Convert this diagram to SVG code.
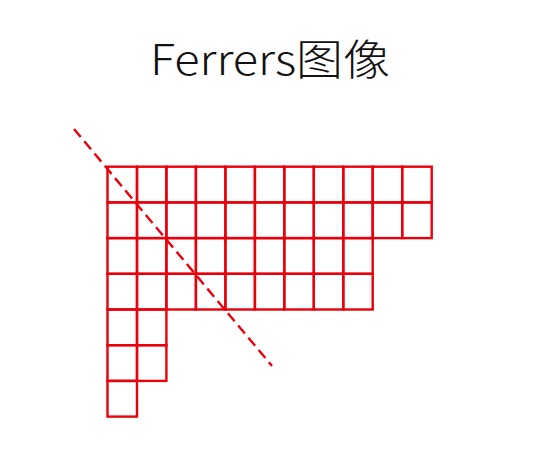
<svg xmlns="http://www.w3.org/2000/svg" width="537" height="457" viewBox="0 0 537 457">
<style>
.c{fill:none;stroke:#e8000a;stroke-width:2.4}
.d{fill:none;stroke:#e8000a;stroke-width:2.4;stroke-dasharray:10.5 5.5}
.t{font-family:"Noto Sans CJK SC","Liberation Sans",sans-serif;font-size:42px;font-weight:300;fill:#111}
</style>
<rect width="537" height="457" fill="#fff"/>
<text class="t" x="150" y="75" textLength="240" lengthAdjust="spacingAndGlyphs">Ferrers图像</text>
<g id="row1">
<rect class="c" x="107.5" y="166.7" width="29.5" height="35.7"/><rect class="c" x="137" y="166.7" width="29.4" height="35.7"/><rect class="c" x="166.4" y="166.7" width="29.5" height="35.7"/><rect class="c" x="195.9" y="166.7" width="29.5" height="35.7"/><rect class="c" x="225.4" y="166.7" width="29.5" height="35.7"/><rect class="c" x="254.9" y="166.7" width="29.4" height="35.7"/><rect class="c" x="284.3" y="166.7" width="29.5" height="35.7"/><rect class="c" x="313.8" y="166.7" width="29.5" height="35.7"/><rect class="c" x="343.3" y="166.7" width="29.4" height="35.7"/><rect class="c" x="372.7" y="166.7" width="29.5" height="35.7"/><rect class="c" x="402.2" y="166.7" width="29.5" height="35.7"/>
</g>
<g id="row2">
<rect class="c" x="107.5" y="202.4" width="29.5" height="35.7"/><rect class="c" x="137" y="202.4" width="29.4" height="35.7"/><rect class="c" x="166.4" y="202.4" width="29.5" height="35.7"/><rect class="c" x="195.9" y="202.4" width="29.5" height="35.7"/><rect class="c" x="225.4" y="202.4" width="29.5" height="35.7"/><rect class="c" x="254.9" y="202.4" width="29.4" height="35.7"/><rect class="c" x="284.3" y="202.4" width="29.5" height="35.7"/><rect class="c" x="313.8" y="202.4" width="29.5" height="35.7"/><rect class="c" x="343.3" y="202.4" width="29.4" height="35.7"/><rect class="c" x="372.7" y="202.4" width="29.5" height="35.7"/><rect class="c" x="402.2" y="202.4" width="29.5" height="35.7"/>
</g>
<g id="row3">
<rect class="c" x="107.5" y="238.1" width="29.5" height="35.7"/><rect class="c" x="137" y="238.1" width="29.4" height="35.7"/><rect class="c" x="166.4" y="238.1" width="29.5" height="35.7"/><rect class="c" x="195.9" y="238.1" width="29.5" height="35.7"/><rect class="c" x="225.4" y="238.1" width="29.5" height="35.7"/><rect class="c" x="254.9" y="238.1" width="29.4" height="35.7"/><rect class="c" x="284.3" y="238.1" width="29.5" height="35.7"/><rect class="c" x="313.8" y="238.1" width="29.5" height="35.7"/><rect class="c" x="343.3" y="238.1" width="29.4" height="35.7"/>
</g>
<g id="row4">
<rect class="c" x="107.5" y="273.8" width="29.5" height="35.7"/><rect class="c" x="137" y="273.8" width="29.4" height="35.7"/><rect class="c" x="166.4" y="273.8" width="29.5" height="35.7"/><rect class="c" x="195.9" y="273.8" width="29.5" height="35.7"/><rect class="c" x="225.4" y="273.8" width="29.5" height="35.7"/><rect class="c" x="254.9" y="273.8" width="29.4" height="35.7"/><rect class="c" x="284.3" y="273.8" width="29.5" height="35.7"/><rect class="c" x="313.8" y="273.8" width="29.5" height="35.7"/><rect class="c" x="343.3" y="273.8" width="29.4" height="35.7"/>
</g>
<g id="row5">
<rect class="c" x="107.5" y="309.5" width="29.5" height="35.7"/><rect class="c" x="137" y="309.5" width="29.4" height="35.7"/>
</g>
<g id="row6">
<rect class="c" x="107.5" y="345.2" width="29.5" height="35.7"/><rect class="c" x="137" y="345.2" width="29.4" height="35.7"/>
</g>
<g id="row7">
<rect class="c" x="107.5" y="380.9" width="29.5" height="35.7"/>
</g>
<g id="connectors">
<line class="d" x1="74" y1="129" x2="272" y2="366"/>
</g>
</svg>
